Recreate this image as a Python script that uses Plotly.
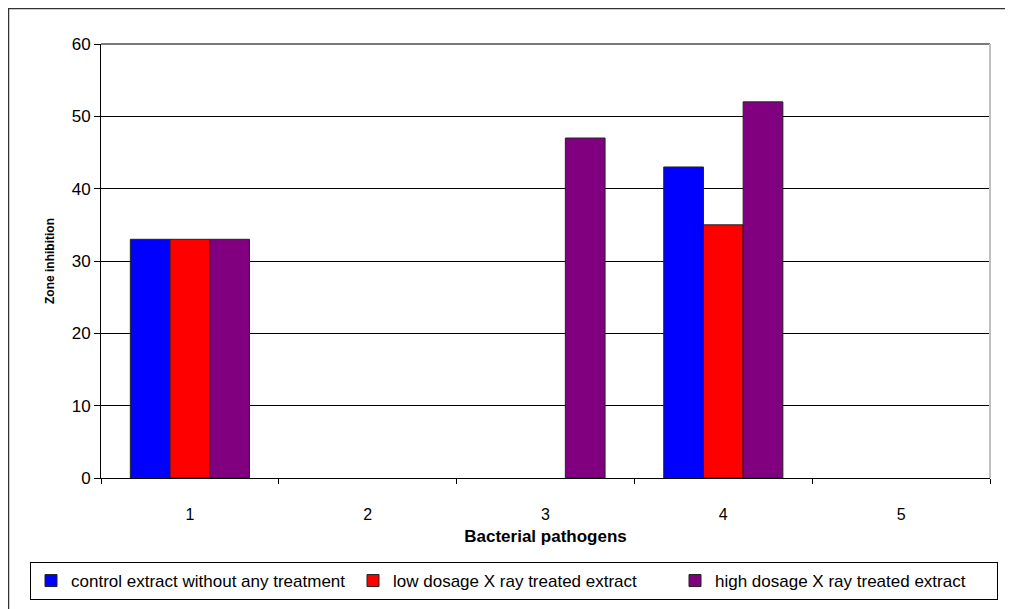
import plotly.graph_objects as go

categories = ["1", "2", "3", "4", "5"]
control = [33, 0, 0, 43, 0]
low_dose = [33, 0, 0, 35, 0]
high_dose = [33, 0, 47, 52, 0]
series_names = ["control extract without any treatment",
                "low dosage X ray treated extract",
                "high dosage X ray treated extract"]
colors = ["#0000FF", "#FF0000", "#800080"]

W, H = 1005, 601
L, R, T, B = 93, 23, 36, 131
pw, ph = W - L - R, H - T - B


def px(xf):
    return (xf - L) / pw


def py(yf):
    return (ph + T - yf) / ph


fig = go.Figure()
for name, vals, c in zip(series_names, [control, low_dose, high_dose], colors):
    fig.add_trace(go.Bar(x=categories, y=vals, name=name,
                         marker=dict(color=c,
                                     line=dict(color="#222222",
                                               width=[1 if v > 0 else 0 for v in vals]))))

fig.update_layout(
    width=W, height=H,
    margin=dict(l=L, r=R, t=T, b=B, autoexpand=False),
    paper_bgcolor="white", plot_bgcolor="white",
    barmode="group", bargap=0.33, bargroupgap=0,
    font=dict(family="Liberation Sans, Arial", color="black"),
    showlegend=True,
    legend=dict(orientation="h", x=px(22), xanchor="left",
                y=py(554), yanchor="top",
                bordercolor="black", borderwidth=1, font=dict(size=17),
                tracegroupgap=0, entrywidth=277, entrywidthmode="pixels"),
    xaxis=dict(type="category", tickson="boundaries", ticks="outside", ticklen=5,
               tickcolor="black", showline=True, linecolor="black", linewidth=1,
               tickfont=dict(size=16), showgrid=False, ticklabelstandoff=22,
               title=dict(text="<b>Bacterial pathogens</b>", font=dict(size=17), standoff=7)),
    yaxis=dict(range=[0, 60], dtick=10, ticks="outside", ticklen=6, tickcolor="black",
               showline=True, linecolor="black", linewidth=1,
               showgrid=True, gridcolor="black", gridwidth=1,
               tickfont=dict(size=17), zeroline=False,
               title=dict(text="<b>Zone inhibition</b>", font=dict(size=12), standoff=14)),
)
# outer frame (left and top edges visible)
fig.add_shape(type="line", xref="paper", yref="paper", x0=px(0.5), x1=px(0.5),
              y0=py(H), y1=py(0.5), line=dict(color="#333333", width=1.5))
fig.add_shape(type="line", xref="paper", yref="paper", x0=px(0), x1=px(W),
              y0=py(0.5), y1=py(0.5), line=dict(color="#333333", width=1.5))
# plot-area top and right edges
fig.add_shape(type="line", xref="paper", yref="paper", x0=0, x1=1, y0=1, y1=1,
              line=dict(color="#7a7a7a", width=2))
fig.add_shape(type="line", xref="paper", yref="paper", x0=1, x1=1, y0=0, y1=1,
              line=dict(color="#c0c0c0", width=2))
fig.write_html("out.html")
